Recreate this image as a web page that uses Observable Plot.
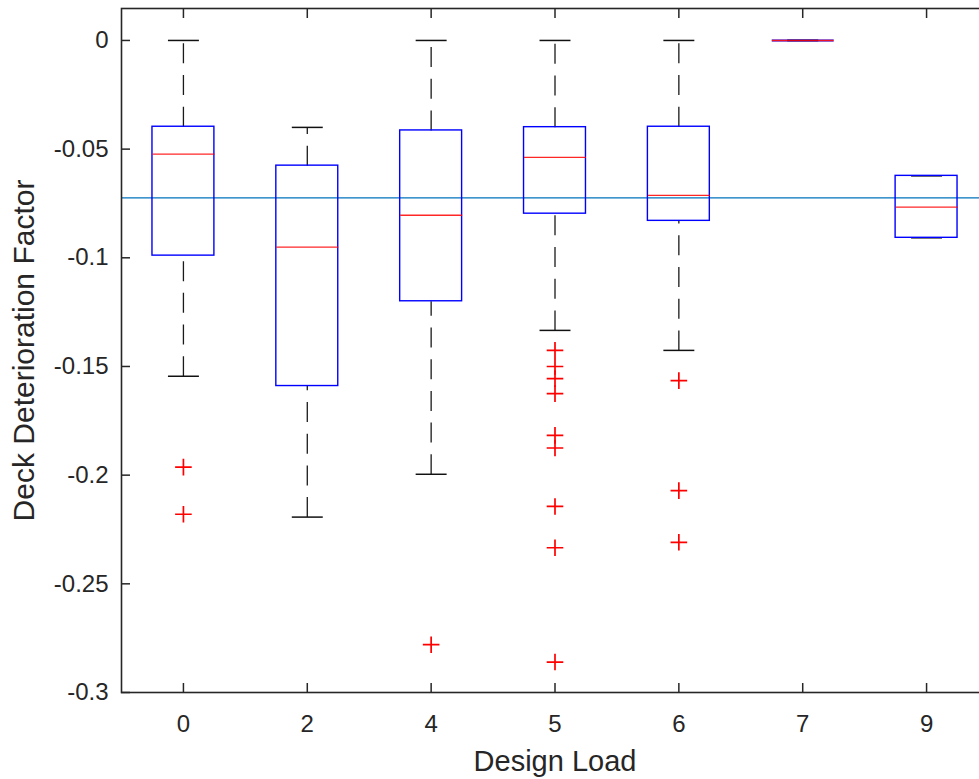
<!DOCTYPE html>
<html><head><meta charset="utf-8">
<script src="https://cdn.jsdelivr.net/npm/d3@7"></script>
<script src="https://cdn.jsdelivr.net/npm/@observablehq/plot@0.6"></script>
<style>html,body{margin:0;padding:0;overflow:hidden;background:#fff;}</style>
</head><body><div id="chart"></div>
<script>
// Box-plot summary per design load
const categories   = ["0", "2", "4", "5", "6", "7", "9"];
const upperWhisker = [0, -0.0400, 0, 0, 0, 0, -0.0623];
const q3           = [-0.0397, -0.0576, -0.0414, -0.0399, -0.0397, 0, -0.0623];
const medians      = [-0.0523, -0.0951, -0.0804, -0.0538, -0.0713, 0, -0.0767];
const q1           = [-0.0990, -0.1590, -0.1200, -0.0797, -0.0830, 0, -0.0908];
const lowerWhisker = [-0.1545, -0.2193, -0.1996, -0.1334, -0.1426, 0, -0.0908];

// Outliers
const outlierGroup = ["0", "0", "4", "5", "5", "5", "5", "5", "5", "5", "5", "5", "6", "6", "6"];
const outlierValue = [-0.1963, -0.2180, -0.2780, -0.1426, -0.1500, -0.1556, -0.1625, -0.1817, -0.1875, -0.2144, -0.2334, -0.2860, -0.1565, -0.2071, -0.2309];

// Reference line (overall mean)
const referenceValue = -0.0724;

// Axis ticks
const yTicks = [0, -0.05, -0.1, -0.15, -0.2, -0.25, -0.3];
const yTickLabels = ["0", "-0.05", "-0.1", "-0.15", "-0.2", "-0.25", "-0.3"];
const xLabel = "Design Load";
const yLabel = "Deck Deterioration Factor";

const rows = categories.map((c, i) => ({
  i, c, uw: upperWhisker[i], q3: q3[i], med: medians[i], q1: q1[i], lw: lowerWhisker[i]
}));
const outliers = outlierGroup.map((g, k) => ({i: categories.indexOf(g), v: outlierValue[k]}));
const idx = categories.map((c, i) => i);

const plus = {
  draw(ctx, size) {
    const r = Math.sqrt(size / Math.PI);
    ctx.moveTo(-r, 0); ctx.lineTo(r, 0);
    ctx.moveTo(0, -r); ctx.lineTo(0, r);
  }
};

const ink = "#262626";
const chart = Plot.plot({
  width: 990, height: 779,
  marginLeft: 121, marginRight: 2, marginTop: 8, marginBottom: 87,
  style: {fontFamily: "Arial, 'Liberation Sans', Helvetica, sans-serif", fontSize: "24px", color: ink, background: "white", maxWidth: "none", overflow: "visible"},
  x: {type: "linear", domain: [-0.5, 6.5]},
  y: {type: "linear", domain: [-0.3, 0.0147]},
  marks: [
    Plot.ruleY([referenceValue], {stroke: "#0072BD", strokeWidth: 1.3}),
    // whiskers (dashed)
    Plot.link(rows.filter(d => d.uw !== d.q3), {x1: "i", x2: "i", y1: "q3", y2: "uw", stroke: "#1a1a1a", strokeWidth: 1.3, strokeDasharray: "20,11.7"}),
    Plot.link(rows.filter(d => d.lw !== d.q1), {x1: "i", x2: "i", y1: "lw", y2: "q1", stroke: "#1a1a1a", strokeWidth: 1.3, strokeDasharray: "20,11.7"}),
    // caps
    Plot.link(rows, {x1: d => d.i - 0.125, x2: d => d.i + 0.125, y1: "uw", y2: "uw", stroke: "#111", strokeWidth: 1.5}),
    Plot.link(rows, {x1: d => d.i - 0.125, x2: d => d.i + 0.125, y1: "lw", y2: "lw", stroke: "#111", strokeWidth: 1.5}),
    // boxes (flat boxes drawn as a line)
    Plot.rect(rows, {x1: d => d.i - 0.25, x2: d => d.i + 0.25, y1: "q1", y2: "q3", fill: "none", stroke: "#0000FF", strokeWidth: 1.4}),
    Plot.link(rows.filter(d => d.q1 === d.q3), {x1: d => d.i - 0.25, x2: d => d.i + 0.25, y1: "q3", y2: "q3", stroke: "#0000FF", strokeWidth: 3, strokeOpacity: 0.5}),
    // medians
    Plot.link(rows, {x1: d => d.i - 0.25, x2: d => d.i + 0.25, y1: "med", y2: "med", stroke: "#FF0000", strokeWidth: 1.4, strokeOpacity: 0.85}),
    // outliers
    Plot.dot(outliers, {x: "i", y: "v", symbol: plus, r: 8.3, fill: "none", stroke: "#FF0000", strokeWidth: 1.7}),
    // axes with inward ticks
    Plot.axisY(yTicks, {anchor: "left", tickSize: -9, tickPadding: 22, tickFormat: d => yTickLabels[yTicks.indexOf(d)], fontSize: 24, label: null, strokeWidth: 1.5}),
    Plot.axisY(yTicks, {anchor: "right", tickSize: -9, tickFormat: () => "", label: null, strokeWidth: 1.5}),
    Plot.axisX(idx, {anchor: "bottom", tickSize: -9, tickPadding: 31, tickFormat: d => categories[d], fontSize: 24, label: null, strokeWidth: 1.5}),
    Plot.axisX(idx, {anchor: "top", tickSize: -9, tickFormat: () => "", label: null, strokeWidth: 1.5}),
    Plot.frame({stroke: ink, strokeWidth: 1.6}),
    Plot.text([xLabel], {text: d => d, frameAnchor: "bottom", lineAnchor: "middle", textAnchor: "middle", dy: 69, fontSize: 29, fill: ink}),
    Plot.text([yLabel], {text: d => d, frameAnchor: "left", lineAnchor: "middle", textAnchor: "middle", dx: -97, rotate: -90, fontSize: 30, fill: ink})
  ]
});
document.getElementById("chart").appendChild(chart);
</script>
</body></html>
